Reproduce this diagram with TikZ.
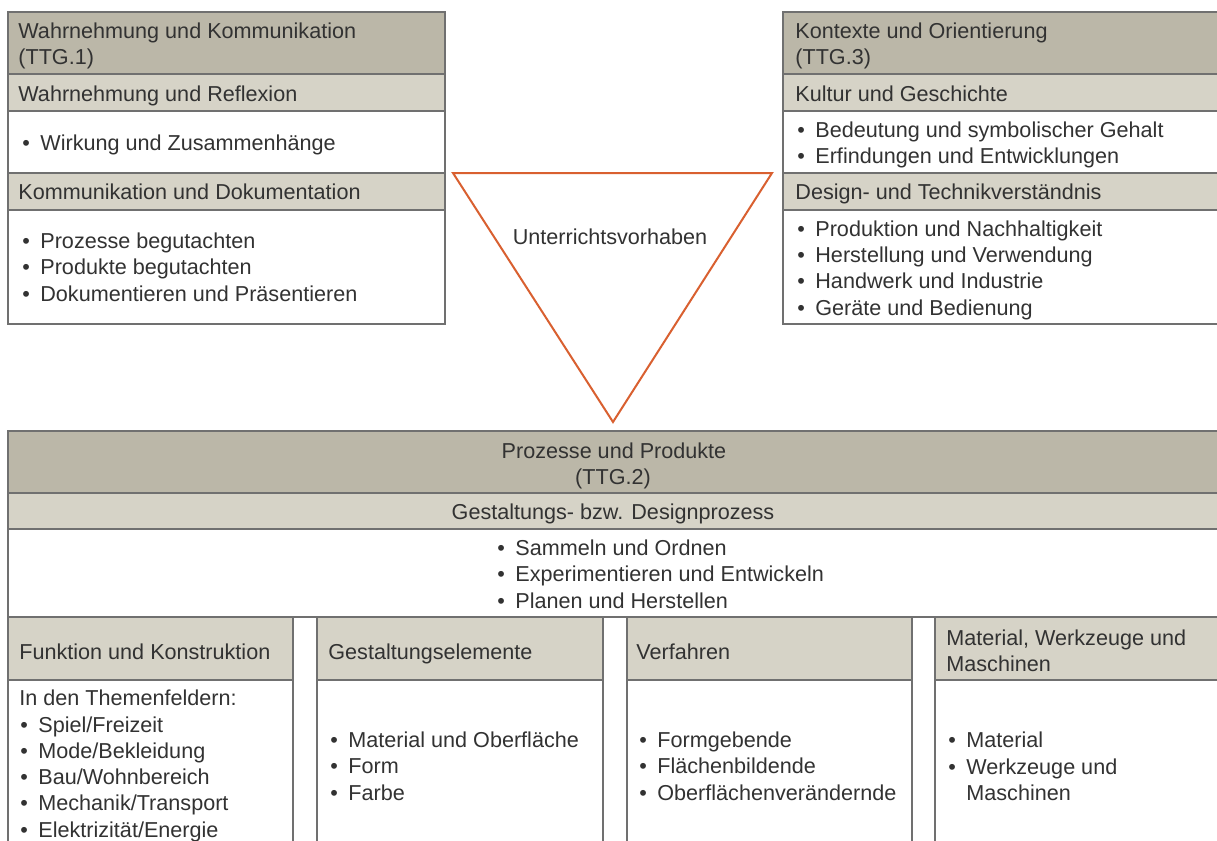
\documentclass[tikz,border=0pt]{standalone}
\usepackage{fontspec}
\setmainfont{Liberation Sans}
\usepackage{xcolor}
\usetikzlibrary{positioning,calc}

\definecolor{hdark}{RGB}{187,183,168}
\definecolor{hlight}{RGB}{214,211,199}
\definecolor{rulegray}{RGB}{112,112,112}
\definecolor{ink}{RGB}{50,50,50}
\definecolor{triorange}{RGB}{217,96,48}

\newcommand{\bl}{\makebox[9pt][l]{\textbullet}}

\tikzset{
	txt/.style={anchor=base west, inner sep=0pt, text=ink, font=\fontsize{10.8}{13.25}\selectfont},
	ctxt/.style={txt, anchor=base},
	band/.style={draw=rulegray, line width=0.6pt},
	triline/.style={draw=triorange, line width=1pt, line join=miter},
}

\begin{document}
\begin{tikzpicture}[x=0.5pt, y=-0.5pt]
	\useasboundingbox[fill=white] (0,0) rectangle (1217,841);
	% TTG.1 box
	\draw[band, fill=white] (8,12) rectangle (445,324);
	\draw[band, fill=hdark] (8,12) rectangle (445,74);
	\draw[band, fill=hlight] (8,74) rectangle (445,111);
	\draw[band, fill=hlight] (8,173) rectangle (445,210);
	\node[txt] (wk) at (18,38) {Wahrnehmung und Kommunikation};
	\node[txt] (ttg1) at (18,64) {(TTG.1)};
	\node[txt] (wr) at (18,101) {Wahrnehmung und Reflexion};
	\node[txt] (wz) at (22,150) {\bl Wirkung und Zusammenhänge};
	\node[txt] (kd) at (18,199) {Kommunikation und Dokumentation};
	\foreach \t [count=\i from 0] in {Prozesse begutachten, Produkte begutachten, Dokumentieren und Präsentieren}
		\node[txt] (kd\i) at (22,248+26.8*\i) {\bl\t};
	% TTG.3 box
	\draw[band, fill=white] (783,12) rectangle (1222,324);
	\draw[band, fill=hdark] (783,12) rectangle (1222,74);
	\draw[band, fill=hlight] (783,74) rectangle (1222,111);
	\draw[band, fill=hlight] (783,173) rectangle (1222,210);
	\node[txt] (ko) at (795,38) {Kontexte und Orientierung};
	\node[txt] (ttg3) at (795,64) {(TTG.3)};
	\node[txt] (kg) at (795,101) {Kultur und Geschichte};
	\foreach \t [count=\i from 0] in {Bedeutung und symbolischer Gehalt, Erfindungen und Entwicklungen}
		\node[txt] (kg\i) at (797,137+26.5*\i) {\bl\t};
	\node[txt] (dt) at (795,199) {Design- und Technikverständnis};
	\foreach \t [count=\i from 0] in {Produktion und Nachhaltigkeit, Herstellung und Verwendung, Handwerk und Industrie, Geräte und Bedienung}
		\node[txt] (dt\i) at (797,236+26.4*\i) {\bl\t};
	% triangle
	\coordinate (tl) at (453,173);
	\coordinate (tr) at (772,173);
	\coordinate (tb) at (613,422);
	\draw[triline] (tl) -- (tr) -- (tb) -- cycle;
	\node[ctxt] (uv) at (610,244) {Unterrichtsvorhaben};
	% TTG.2 box
	\draw[band, fill=white] (8,431) rectangle (1222,850);
	\draw[band, fill=hdark] (8,431) rectangle (1222,493);
	\draw[band, fill=hlight] (8,493) rectangle (1222,529);
	\draw[band] (8,617) -- (1222,617);
	\node[ctxt] (pp) at (614,458) {Prozesse und Produkte};
	\node[ctxt] (ttg2) at (613,484) {(TTG.2)};
	\node[ctxt] (gd) at (613,519) {Gestaltungs- bzw. Designprozess};
	\foreach \t [count=\i from 0] in {Sammeln und Ordnen, Experimentieren und Entwickeln, Planen und Herstellen}
		\node[txt] (gd\i) at (497,555+26.8*\i) {\bl\t};
	% columns
	\draw[band, fill=hlight] (8,617) rectangle (293,680);
	\draw[band, fill=hlight] (317,617) rectangle (603,680);
	\draw[band, fill=hlight] (627,617) rectangle (912,680);
	\draw[band, fill=hlight] (935,617) rectangle (1222,680);
	\foreach \x in {293,317,603,627,912,935}
		\draw[band] (\x,617) -- (\x,850);
	\node[txt] (fk) at (19,659) {Funktion und Konstruktion};
	\node[txt] (ge) at (328,659) {Gestaltungselemente};
	\node[txt] (vf) at (636,659) {Verfahren};
	\node[txt] (mw) at (946,645) {Material, Werkzeuge und};
	\node[txt] (mw2) at (946,671) {Maschinen};
	\node[txt] (tf) at (19,705) {In den Themenfeldern:};
	\foreach \t [count=\i from 0] in {Spiel/Freizeit, Mode/Bekleidung, Bau/Wohnbereich, Mechanik/Transport, Elektrizität/Energie}
		\node[txt] (tf\i) at (20,732+26.3*\i) {\bl\t};
	\foreach \t [count=\i from 0] in {Material und Oberfläche, Form, Farbe}
		\node[txt] (ge\i) at (330,747+26.5*\i) {\bl\t};
	\foreach \t [count=\i from 0] in {Formgebende, Flächenbildende, Oberflächenverändernde}
		\node[txt] (vf\i) at (639,747+26.5*\i) {\bl\t};
	\node[txt] (mw3) at (948,747) {\bl Material};
	\node[txt] (mw4) at (948,774) {\bl Werkzeuge und};
	\node[txt] (mw5) at (966,800) {Maschinen};
\end{tikzpicture}
\end{document}
